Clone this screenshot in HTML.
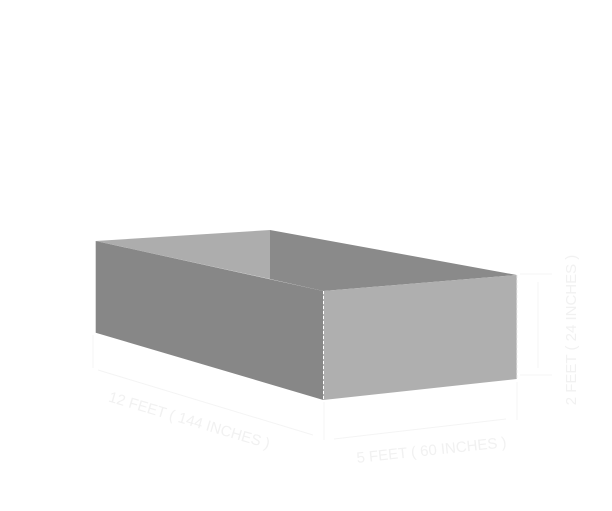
<!DOCTYPE html>
<html><head><style>
html,body{margin:0;padding:0;background:#fff;}
svg{display:block;}
text{font-family:"Liberation Sans",sans-serif;fill:#f1f1f1;font-size:15px;}
</style></head><body>
<svg width="612" height="511" viewBox="0 0 612 511" xmlns="http://www.w3.org/2000/svg">
<polygon points="95.7,241 270,230 270,279" fill="#adadad"/>
<polygon points="270,230 516.7,275 323.3,291 270,279" fill="#8a8a8a"/>
<polygon points="95.7,241 323.3,291 323.3,400 95.7,332.7" fill="#878787"/>
<polygon points="323.3,291 516.7,275 516.7,379 323.3,400" fill="#afafaf"/>
<line x1="323.5" y1="291" x2="323.5" y2="400" stroke="#fff" stroke-width="1" stroke-dasharray="3,2"/>
<line x1="517" y1="275" x2="517" y2="379" stroke="#eee" stroke-width="1" stroke-dasharray="3,2"/>
<g stroke="#f4f4f4" stroke-width="1" fill="none">
<line x1="93" y1="335" x2="93" y2="368"/>
<line x1="98" y1="370" x2="313" y2="435"/>
<line x1="324" y1="402" x2="324" y2="440"/>
<line x1="517" y1="382" x2="517" y2="420"/>
<line x1="334" y1="439" x2="506" y2="419"/>
<line x1="538" y1="282" x2="538" y2="368"/>
<line x1="520" y1="274" x2="552" y2="274"/>
<line x1="520" y1="375" x2="552" y2="375"/>
</g>
<text transform="translate(188,425) rotate(16.5)" text-anchor="middle">12 FEET ( 144 INCHES )</text>
<text transform="translate(432,455) rotate(-6)" text-anchor="middle">5 FEET ( 60 INCHES )</text>
<text transform="translate(576,330) rotate(-90)" text-anchor="middle">2 FEET ( 24 INCHES )</text>
</svg>
</body></html>
